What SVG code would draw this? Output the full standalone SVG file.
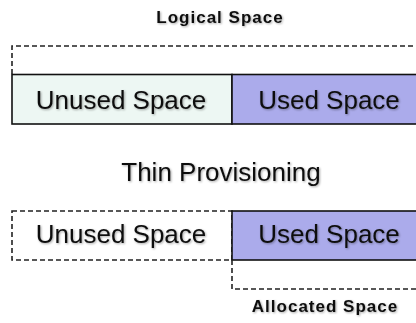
<svg xmlns="http://www.w3.org/2000/svg" width="416" height="323" viewBox="0 0 416 323">
  <defs>
    <filter id="sh" x="-10%" y="-30%" width="120%" height="160%">
      <feDropShadow dx="1" dy="1" stdDeviation="0.8" flood-color="#000" flood-opacity="0.35"/>
    </filter>
  </defs>
  <style>
    .big { font-family: "Liberation Sans", Arial, sans-serif; font-size: 26px; fill: #111; text-anchor: middle; }
    .small { font-family: "Liberation Sans", Arial, sans-serif; font-size: 17px; font-weight: bold; fill: #111; text-anchor: middle; letter-spacing: 1px; }
    .solid { stroke: #111; stroke-width: 1.6; }
    .dash { fill: none; stroke: #222; stroke-width: 1.6; stroke-dasharray: 5 3; }
    .unused { fill: #EDF7F3; }
    .used { fill: #ABABEB; }
  </style>
  <rect width="416" height="323" fill="#fff"/>

  <g id="logical-label">
    <text class="small" x="220" y="23" filter="url(#sh)">Logical Space</text>
  </g>
  <g id="logical-space">
    <path class="dash" d="M12 74 V46 H418"/>
  </g>
  <g id="top-unused">
    <rect class="unused solid" x="12" y="74.5" width="220" height="49.5"/>
    <text class="big" x="121" y="109" filter="url(#sh)">Unused Space</text>
  </g>
  <g id="top-used">
    <rect class="used solid" x="232" y="74.5" width="190" height="49.5"/>
    <text class="big" x="329" y="109" filter="url(#sh)">Used Space</text>
  </g>

  <g id="thin-label">
    <text class="big" x="221" y="181" filter="url(#sh)">Thin Provisioning</text>
  </g>

  <g id="bottom-unused">
    <rect class="dash" x="12" y="211" width="220" height="49"/>
    <text class="big" x="121" y="243" filter="url(#sh)">Unused Space</text>
  </g>
  <g id="bottom-used">
    <rect class="used solid" x="232" y="211" width="190" height="49"/>
    <text class="big" x="329" y="243" filter="url(#sh)">Used Space</text>
  </g>
  <g id="allocated-space">
    <path class="dash" d="M232 260 V289 H418"/>
  </g>
  <g id="allocated-label">
    <text class="small" x="325" y="312" filter="url(#sh)">Allocated Space</text>
  </g>
</svg>
